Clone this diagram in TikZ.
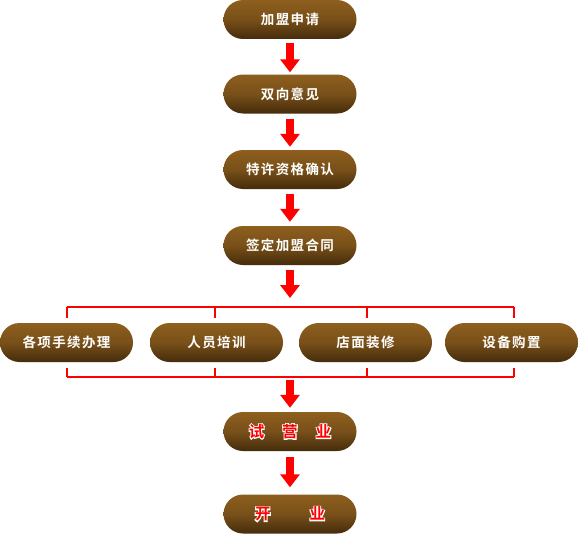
\documentclass[tikz,border=0pt]{standalone}
\usepackage{fontspec}
\usetikzlibrary{arrows.meta}
\newfontfamily\cjk{Noto Sans CJK SC}[BoldFont={Noto Sans CJK SC Bold},LetterSpace=10]
\definecolor{pilltop}{HTML}{8E5F1E}
\definecolor{pillbot}{HTML}{452C0C}
\newcommand\outlined[1]{\leavevmode\rlap{\color{white}\special{pdf:literal direct 2 Tr 2 w 1 1 1 RG}#1\special{pdf:literal direct 0 Tr}}{\color{red}#1}}
\tikzset{
  pill/.style={rectangle, rounded corners=19.5pt, minimum width=133pt, minimum height=39pt,
    inner sep=0pt, top color=pilltop, bottom color=pillbot, middle color=pilltop!70!pillbot,
    text=white, font=\cjk\bfseries\fontsize{13.5pt}{15pt}\selectfont},
  redpill/.style={pill, font=\cjk\bfseries\fontsize{15.5pt}{17pt}\selectfont},
  bigarrow/.style={draw=red, line width=8pt, -{Triangle[width=19pt,length=13pt]}, red},
  bracket/.style={draw=red, line width=1.8pt}
}
\begin{document}
\begin{tikzpicture}[x=1pt,y=-1pt]
\useasboundingbox (0,0) rectangle (578,535);
\fill[white] (0,0) rectangle (578,535);
\node[pill] (n1) at (290,19.5) {加盟申请};
\node[pill] (n2) at (290,94) {双向意见};
\node[pill] (n3) at (290,169.5) {特许资格确认};
\node[pill] (n4) at (290,245.5) {签定加盟合同};
\node[pill] (p1) at (66.5,342.5) {各项手续办理};
\node[pill] (p2) at (216.5,342.5) {人员培训};
\node[pill] (p3) at (365.5,342.5) {店面装修};
\node[pill] (p4) at (511.5,342.5) {设备购置};
\node[redpill] (n5) at (290,431.5) {\outlined{试\hspace{18pt}营\hspace{18pt}业}};
\node[redpill] (n6) at (290,514) {\outlined{开\hspace{39pt}业}};
\coordinate (ht) at (290,307);
\coordinate (hb) at (290,377);
\draw[bigarrow, shorten <=4pt, shorten >=2pt] (n1.south) -- (n2.north);
\draw[bigarrow, shorten <=5pt, shorten >=3pt] (n2.south) -- (n3.north);
\draw[bigarrow, shorten <=5pt, shorten >=4pt] (n3.south) -- (n4.north);
\draw[bigarrow, shorten <=5pt, shorten >=9pt] (n4.south) -- (ht);
\draw[bigarrow, shorten <=3pt, shorten >=4pt] (hb) -- (n5.north);
\draw[bigarrow, shorten <=6pt, shorten >=7pt] (n5.south) -- (n6.north);
\foreach \p/\dx in {p1/0.5,p2/-1.5,p3/1.5,p4/2.5}{
  \draw[bracket] ([xshift=\dx pt]ht -| \p.north) -- ([xshift=\dx pt,yshift=5pt]\p.north);
  \draw[bracket] ([xshift=\dx pt]hb -| \p.south) -- ([xshift=\dx pt,yshift=-6pt]\p.south);
}
\draw[bracket] ([xshift=0.5pt]ht -| p1.north) -- ([xshift=2.5pt]ht -| p4.north);
\draw[bracket] ([xshift=0.5pt]hb -| p1.south) -- ([xshift=2.5pt]hb -| p4.south);
\end{tikzpicture}
\end{document}
